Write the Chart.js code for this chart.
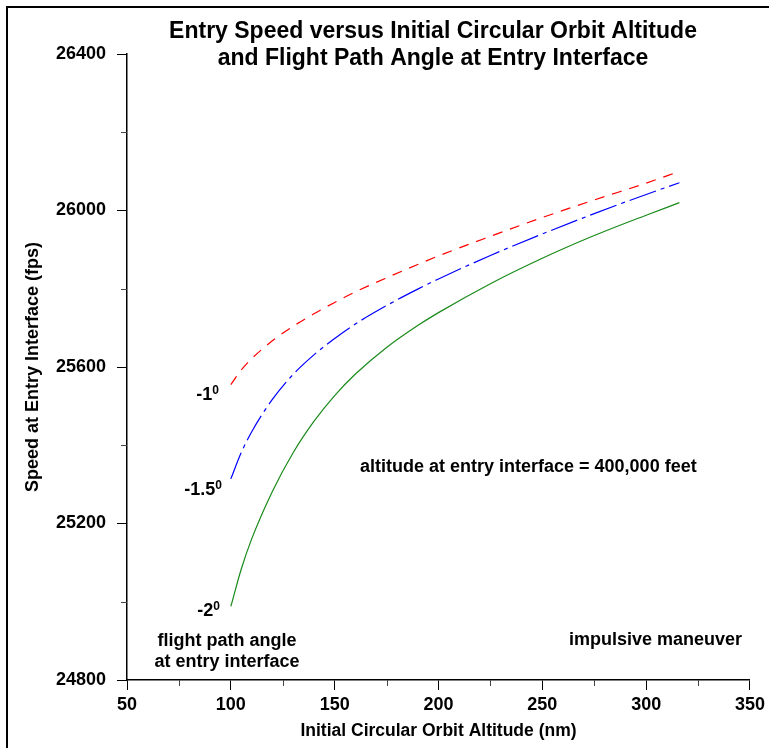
<!DOCTYPE html>
<html>
<head>
<meta charset="utf-8">
<title>Entry Speed versus Initial Circular Orbit Altitude</title>
<script src="https://cdn.jsdelivr.net/npm/chart.js@4.4.0/dist/chart.umd.min.js"></script>
<style>
body { margin: 0; background: #fff; }
canvas { display: block; }
</style>
</head>
<body>
<canvas id="myChart" width="769" height="748"></canvas>
<script>
// initial circular orbit altitude (nm)
let altitudes = [100, 105, 110, 120, 130, 140, 150, 160, 175, 190, 200, 225, 250, 275, 300, 316];

// speed at entry interface (fps), one list per flight path angle
let speed1deg = [25555, 25592, 25621, 25667, 25704, 25736, 25765, 25792, 25828, 25862, 25884, 25934, 25982, 26027, 26070, 26100];
let speed15deg = [25314, 25381, 25434, 25517, 25581, 25631, 25673, 25710, 25757, 25799, 25825, 25885, 25940, 25992, 26041, 26071];
let speed2deg = [24988, 25083, 25160, 25282, 25381, 25461, 25527, 25582, 25650, 25706, 25739, 25813, 25878, 25936, 25988, 26020];

// axis ticks
let xTicks = [50, 100, 150, 200, 250, 300, 350];
let xMinor = [75, 125, 175, 225, 275, 325];
let yTicks = [24800, 25200, 25600, 26000, 26400];
let yMinor = [25000, 25400, 25800, 26200];

const FONT = "'Liberation Sans', Arial, Helvetica, sans-serif";

function toPoints(ys) {
  return altitudes.map((a, i) => ({ x: a, y: ys[i] }));
}

// text with a small raised "0" after it (degree mark as drawn in the original)
function degLabel(ctx, text, rightX, y) {
  ctx.font = "bold 18px " + FONT;
  let w1 = ctx.measureText(text).width;
  ctx.font = "bold 12px " + FONT;
  let w2 = ctx.measureText("0").width;
  let left = rightX - w1 - w2;
  ctx.textAlign = "left";
  ctx.textBaseline = "middle";
  ctx.font = "bold 18px " + FONT;
  ctx.fillText(text, left, y);
  ctx.font = "bold 12px " + FONT;
  ctx.fillText("0", left + w1, y - 4);
}

const extras = {
  id: "extras",
  beforeDraw(chart) {
    let ctx = chart.ctx;
    ctx.save();
    ctx.fillStyle = "#fff";
    ctx.fillRect(0, 0, chart.width, chart.height);
    // frame of the original figure (left and top edge only visible)
    ctx.strokeStyle = "#000";
    ctx.lineWidth = 2;
    ctx.beginPath();
    ctx.moveTo(7, chart.height);
    ctx.lineTo(7, 7);
    ctx.lineTo(chart.width, 7);
    ctx.stroke();
    ctx.restore();
  },
  afterDraw(chart) {
    let ctx = chart.ctx;
    let xs = chart.scales.x;
    let ys = chart.scales.y;
    ctx.save();

    // minor ticks
    ctx.strokeStyle = "#444";
    ctx.lineWidth = 1;
    xMinor.forEach(v => {
      let px = Math.round(xs.getPixelForValue(v)) + 0.5;
      ctx.beginPath();
      ctx.moveTo(px, xs.top);
      ctx.lineTo(px, xs.top + 6);
      ctx.stroke();
    });
    yMinor.forEach(v => {
      let py = Math.round(ys.getPixelForValue(v)) + 0.5;
      ctx.beginPath();
      ctx.moveTo(ys.right, py);
      ctx.lineTo(ys.right - 6, py);
      ctx.stroke();
    });

    ctx.fillStyle = "#000";

    // title
    ctx.textAlign = "center";
    ctx.textBaseline = "middle";
    ctx.font = "bold 23px " + FONT;
    ctx.fillText("Entry Speed versus Initial Circular Orbit Altitude", 433, 32);
    ctx.fillText("and Flight Path Angle at Entry Interface", 433, 59);

    // curve labels
    degLabel(ctx, "-1", 219, 395);
    degLabel(ctx, "-1.5", 222, 490);
    degLabel(ctx, "-2", 220, 611);

    // notes
    ctx.textAlign = "left";
    ctx.font = "bold 18px " + FONT;
    ctx.fillText("altitude at entry interface = 400,000 feet", 360, 467);
    ctx.fillText("impulsive maneuver", 569, 640);
    ctx.textAlign = "center";
    ctx.fillText("flight path angle", 227, 641);
    ctx.fillText("at entry interface", 227, 662);

    ctx.restore();
  }
};

let canvasChart = document.getElementById("myChart");

new Chart(canvasChart, {
  type: "line",
  data: {
    datasets: [
      {
        label: "-1",
        data: toPoints(speed1deg),
        borderColor: "#ff0000",
        borderWidth: 1.2,
        borderDash: [10, 8],
        pointRadius: 0,
        cubicInterpolationMode: "monotone",
        fill: false
      },
      {
        label: "-1.5",
        data: toPoints(speed15deg),
        borderColor: "#0000ff",
        borderWidth: 1.2,
        borderDash: [28, 5, 4, 5],
        pointRadius: 0,
        cubicInterpolationMode: "monotone",
        fill: false
      },
      {
        label: "-2",
        data: toPoints(speed2deg),
        borderColor: "#1a8a1a",
        borderWidth: 1.2,
        pointRadius: 0,
        cubicInterpolationMode: "monotone",
        fill: false
      }
    ]
  },
  options: {
    responsive: false,
    animation: false,
    layout: { padding: { top: 54, right: 16, left: 0, bottom: 0 } },
    plugins: {
      legend: { display: false },
      tooltip: { enabled: false },
      title: { display: false }
    },
    scales: {
      x: {
        type: "linear",
        min: 50,
        max: 350,
        afterBuildTicks: scale => { scale.ticks = xTicks.map(v => ({ value: v })); },
        afterFit: scale => { scale.height = 68; },
        grid: { drawOnChartArea: false, tickLength: 10, color: "#000", lineWidth: 1 },
        border: { color: "#000", width: 1.5 },
        ticks: {
          color: "#000",
          font: { family: FONT, size: 18, weight: "bold" },
          padding: 4,
          maxRotation: 0,
          callback: v => String(v)
        },
        title: {
          display: true,
          text: "Initial Circular Orbit Altitude (nm)",
          color: "#000",
          font: { family: FONT, size: 17.5, weight: "bold" },
          padding: { top: 0, bottom: 6 }
        }
      },
      y: {
        type: "linear",
        min: 24800,
        max: 26400,
        afterBuildTicks: scale => { scale.ticks = yTicks.map(v => ({ value: v })); },
        afterFit: scale => { scale.width = 127; },
        grid: { drawOnChartArea: false, tickLength: 10, color: "#000", lineWidth: 1 },
        border: { color: "#000", width: 1.5 },
        ticks: {
          color: "#000",
          font: { family: FONT, size: 18, weight: "bold" },
          padding: 11,
          callback: v => String(v)
        },
        title: {
          display: true,
          text: "Speed at Entry Interface (fps)",
          color: "#000",
          font: { family: FONT, size: 18, weight: "bold" },
          padding: { top: 22, bottom: 0 }
        }
      }
    }
  },
  plugins: [extras]
});
</script>
</body>
</html>
